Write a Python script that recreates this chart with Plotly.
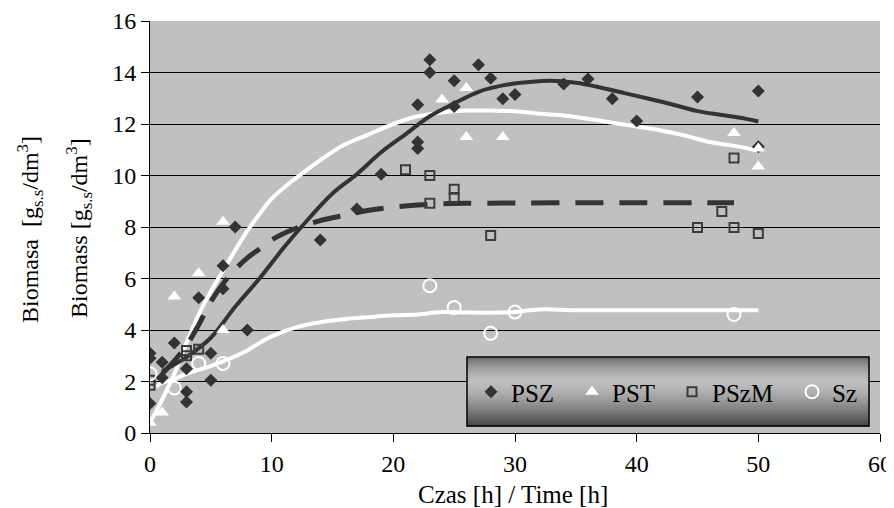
import plotly.graph_objects as go

FONT = "Liberation Serif"

# ---- measured points ----
psz_t = [0, 0, 0, 1, 1, 2, 3, 3, 3, 4, 5, 5, 6, 6, 7, 8, 14, 17, 19, 22, 22, 22, 23, 23,
         25, 25, 27, 28, 29, 30, 34, 36, 38, 40, 45, 50, 50]
psz_y = [3.1, 2.9, 1.15, 2.75, 2.15, 3.5, 2.5, 1.6, 1.2, 5.25, 3.1, 2.05, 6.5, 5.6, 8.0, 4.0,
         7.5, 8.7, 10.05, 12.75, 11.3, 11.05, 14.5, 14.0, 13.68, 12.68, 14.3, 13.78, 12.98,
         13.15, 13.55, 13.75, 12.98, 12.12, 13.05, 13.28, 11.12]

pst_t = [0, 1, 2, 4, 6, 6, 24, 26, 26, 29, 48, 50, 50]
pst_y = [0.4, 0.8, 5.3, 6.2, 8.2, 4.0, 12.95, 13.4, 11.5, 11.5, 11.65, 11.05, 10.35]

pszm_t = [0, 0, 3, 3, 4, 21, 23, 23, 25, 25, 28, 45, 47, 48, 48, 50]
pszm_y = [1.85, 2.05, 3.2, 3.0, 3.25, 10.22, 10.0, 8.92, 9.47, 9.15, 7.67, 7.98, 8.6, 7.98,
          10.68, 7.75]

sz_t = [0, 2, 4, 6, 23, 25, 28, 30, 48]
sz_y = [2.3, 1.75, 2.7, 2.7, 5.72, 4.87, 3.87, 4.7, 4.6]

# ---- trend lines ----
psz_fit_t = [1, 3, 5, 7, 9, 11, 13, 15, 17, 19, 21, 23, 25, 27, 29, 31, 33, 35, 37, 39, 41,
             43, 45, 47, 49, 50]
psz_fit_y = [2.4, 2.95, 3.7, 4.9, 6.0, 7.2, 8.3, 9.3, 10.05, 10.9, 11.6, 12.3, 12.8, 13.25,
             13.5, 13.62, 13.68, 13.6, 13.42, 13.2, 12.98, 12.75, 12.5, 12.35, 12.2, 12.1]

pst_fit_t = [0, 1, 2, 3, 4, 5, 6, 7, 8, 9, 10, 12, 14, 16, 18, 20, 22, 24, 26, 28, 30, 32,
             34, 36, 38, 40, 42, 44, 46, 48, 50]
pst_fit_y = [0.4, 1.3, 2.3, 3.5, 4.6, 5.5, 6.3, 7.1, 7.85, 8.5, 9.1, 9.9, 10.6, 11.2, 11.6,
             12.0, 12.3, 12.45, 12.52, 12.52, 12.5, 12.4, 12.33, 12.2, 12.05, 11.9, 11.75,
             11.55, 11.3, 11.15, 10.97]

pszm_fit_t = [1, 2, 3, 4, 5, 6, 7, 8, 9, 10, 12, 14, 16, 18, 20, 22, 24, 26, 30, 35, 40, 45, 48]
pszm_fit_y = [2.3, 2.8, 3.4, 4.2, 5.1, 5.8, 6.35, 6.8, 7.15, 7.5, 7.95, 8.25, 8.45, 8.65,
              8.77, 8.85, 8.9, 8.92, 8.93, 8.94, 8.94, 8.94, 8.94]

sz_fit_t = [0.5, 1, 2, 3, 4, 5, 6, 7, 8, 9, 10, 12, 14, 16, 18, 20, 22, 24, 26, 28, 30, 32,
            35, 40, 45, 50]
sz_fit_y = [1.8, 1.95, 2.1, 2.3, 2.45, 2.6, 2.78, 2.98, 3.2, 3.5, 3.75, 4.1, 4.3, 4.42, 4.5,
            4.57, 4.6, 4.7, 4.68, 4.67, 4.7, 4.8, 4.77, 4.77, 4.77, 4.77]

x_ticks = [0, 10, 20, 30, 40, 50, 60]
y_ticks = [0, 2, 4, 6, 8, 10, 12, 14, 16]

DARK = "#333333"

fig = go.Figure()

# lines
fig.add_trace(go.Scatter(x=pst_fit_t, y=pst_fit_y, mode="lines", showlegend=False,
                         line=dict(color="white", width=4, shape="spline"), hoverinfo="skip"))
fig.add_trace(go.Scatter(x=sz_fit_t, y=sz_fit_y, mode="lines", showlegend=False,
                         line=dict(color="white", width=4, shape="spline"), hoverinfo="skip"))
fig.add_trace(go.Scatter(x=pszm_fit_t, y=pszm_fit_y, mode="lines", showlegend=False,
                         line=dict(color=DARK, width=5, shape="spline", dash="28px,16px"),
                         hoverinfo="skip"))
fig.add_trace(go.Scatter(x=psz_fit_t, y=psz_fit_y, mode="lines", showlegend=False,
                         line=dict(color=DARK, width=4, shape="spline"), hoverinfo="skip"))

# markers
fig.add_trace(go.Scatter(x=pszm_t, y=pszm_y, mode="markers", name="PSzM", legend="legend3",
                         marker=dict(symbol="square-open", size=9, color="#3c3c3c",
                                     line=dict(width=2, color="#3c3c3c"))))
fig.add_trace(go.Scatter(x=sz_t, y=sz_y, mode="markers", name="Sz", legend="legend4",
                         marker=dict(symbol="circle-open", size=13, color="white",
                                     line=dict(width=2, color="white"))))
fig.add_trace(go.Scatter(x=psz_t, y=psz_y, mode="markers", name="PSZ", legend="legend",
                         marker=dict(symbol="diamond", size=10, color=DARK)))
fig.add_trace(go.Scatter(x=pst_t, y=pst_y, mode="markers", name="PST", legend="legend2",
                         marker=dict(symbol="triangle-up", size=12, color="white",
                                     line=dict(width=0))))

# page geometry (the page body adds an 8px offset)
OFF = 8
PAGE_W, PAGE_H = 894, 508
W, H = PAGE_W - OFF, PAGE_H - OFF
PL, PR, PT, PB = 150, 880, 21, 433          # plot area in page pixels
L, R, T, B = PL - OFF, PAGE_W - PR, PT - OFF, PAGE_H - PB
PW, PH = PR - PL, PB - PT


def px_x(p):
    return (p - PL) / PW


def px_y(p):
    return (PB - p) / PH


# gradient legend box built from horizontal strips
box_x0, box_x1 = px_x(467), px_x(869)
top_px, bot_px = 357, 426
n = 46
shapes = []
for i in range(n):
    t = (i + 0.5) / n
    if t < 0.36:
        f = ((0.36 - t) / 0.36) ** 1.6
        v = 190 - (190 - 105) * f
    else:
        f = ((t - 0.36) / 0.64) ** 1.4
        v = 190 - (190 - 70) * f
    v = int(round(v))
    y0p = top_px + (bot_px - top_px) * i / n
    y1p = top_px + (bot_px - top_px) * (i + 1) / n + 0.6
    shapes.append(dict(type="rect", xref="paper", yref="paper", x0=box_x0, x1=box_x1,
                       y0=px_y(y1p), y1=px_y(y0p), line=dict(width=0),
                       fillcolor=f"rgb({v},{v},{v})", layer="above"))
shapes.append(dict(type="rect", xref="paper", yref="paper", x0=box_x0, x1=box_x1,
                   y0=px_y(bot_px), y1=px_y(top_px), line=dict(width=1.5, color="black"),
                   fillcolor="rgba(0,0,0,0)", layer="above"))

leg_common = dict(orientation="h", bgcolor="rgba(0,0,0,0)", borderwidth=0,
                  font=dict(family=FONT, size=25, color="black"),
                  yanchor="middle", y=px_y(392), xanchor="left")
marker_px = [485, 586, 686, 806]
legs = {}
for key, mp in zip(["legend", "legend2", "legend3", "legend4"], marker_px):
    legs[key] = dict(leg_common, x=px_x(mp - 22 + OFF))

fig.update_layout(
    width=W, height=H,
    margin=dict(l=L, r=R, t=T, b=B, autoexpand=False),
    paper_bgcolor="white",
    plot_bgcolor="#c0c0c0",
    font=dict(family=FONT, size=24, color="black"),
    shapes=shapes,
    **legs,
    annotations=[
        dict(text="Biomasa\u00a0 [g<sub>s.s</sub>/dm<sup>3</sup>]", textangle=-90,
             xref="paper", yref="paper", x=px_x(30), y=px_y(230), showarrow=False,
             xanchor="center", yanchor="middle", font=dict(family=FONT, size=24)),
        dict(text="Biomass [g<sub>s.s</sub>/dm<sup>3</sup>]", textangle=-90,
             xref="paper", yref="paper", x=px_x(79), y=px_y(228), showarrow=False,
             xanchor="center", yanchor="middle", font=dict(family=FONT, size=24)),
        dict(text="Czas [h] / Time [h]", xref="paper", yref="paper", x=px_x(513),
             y=px_y(494), showarrow=False, xanchor="center", yanchor="middle",
             font=dict(family=FONT, size=25)),
    ],
)

fig.update_xaxes(range=[0, 60], tickvals=x_ticks, ticktext=[str(v) for v in x_ticks],
                 showgrid=False, zeroline=False, showline=True, linecolor="black",
                 linewidth=1, ticks="outside", ticklen=8, tickcolor="black",
                 ticklabelstandoff=1, ticklabeloverflow="allow",
                 tickfont=dict(family=FONT, size=24))
fig.update_yaxes(range=[0, 16], tickvals=y_ticks, ticktext=[str(v) for v in y_ticks],
                 showgrid=True, gridcolor="black", gridwidth=1, zeroline=False,
                 showline=True, linecolor="black", linewidth=1, ticks="outside",
                 ticklen=8, tickcolor="black", ticklabeloverflow="allow",
                 tickfont=dict(family=FONT, size=24))

fig.write_html("out.html")
